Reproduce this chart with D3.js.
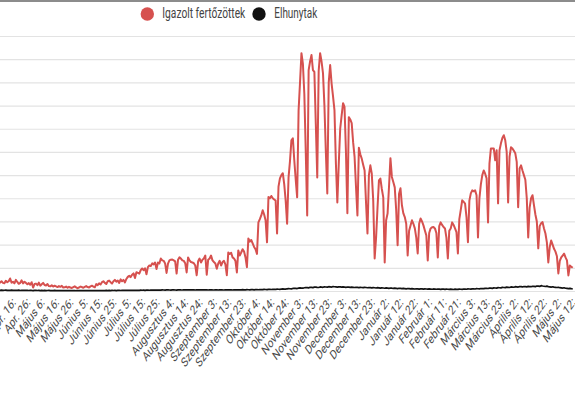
<!DOCTYPE html>
<html><head><meta charset="utf-8">
<script src="https://cdn.jsdelivr.net/npm/d3@7"></script>
<style>body{margin:0;background:#fff;overflow:hidden} svg{display:block;font-family:Roboto, "Noto Sans", sans-serif;}</style>
</head><body><svg id="c" width="575" height="396"></svg>
<script>
// Categories: daily reports from 2020-04-06 (index 0) to 2021-05-12 (index 400)
const firstDay = "2020-04-06";
const seriesNames = ["Igazolt fertőzöttek", "Elhunytak"];
const seriesColors = ["#d6514f", "#111111"];
const tickLabels = ["Apr. 16:","Apr. 26:","Május 6:","Május 16:","Május 26:","Június 5:","Június 15:","Június 25:","Július 5:","Július 15:","Július 25:","Augusztus 4:","Augusztus 14:","Augusztus 24:","Szeptember 3:","Szeptember 13:","Szeptember 23:","Október 4:","Október 14:","Október 24:","November 3:","November 13:","November 23:","December 3:","December 13:","December 23:","Január 2:","Január 12:","Január 22:","Február 1:","Február 11:","Február 21:","Március 3:","Március 13:","Március 23:","Április 2:","Április 12:","Április 22:","Május 2:","Május 12:"];
const cases = [
390,360,420,350,330,440,380,420,540,360,
400,330,480,390,310,350,460,330,400,350,
290,340,270,380,150,300,320,250,360,230,
290,350,260,240,300,210,200,250,190,230,
200,170,210,180,220,150,160,190,140,180,
150,130,170,200,160,120,150,190,170,140,
180,210,170,150,200,230,190,160,300,250,
330,280,380,420,350,300,420,450,380,320,
420,480,400,450,350,500,420,480,370,520,
610,660,600,700,760,560,810,780,750,900,
970,900,980,720,1030,1100,1080,1190,1150,1230,
950,1230,1190,1400,1320,1300,1190,780,1180,1320,
1350,1360,1320,1280,750,1350,1450,1400,1320,1300,
1200,800,1450,1320,1250,1230,1200,1100,680,1280,
1400,1230,1350,1400,1530,700,1350,1400,1530,1320,
1250,1190,960,1190,1300,1100,1250,1300,1150,680,
1660,1600,1650,1450,1400,1300,800,1750,1530,1660,
1800,1700,1450,1030,2270,2130,2200,2050,1900,1800,
1600,2960,3100,3260,3480,3300,3050,2100,4050,4000,
4100,4000,3950,3900,2480,4500,4860,5000,5080,4600,
3900,2900,4900,5600,6500,6590,5640,4800,4040,7800,
9000,10260,9800,8500,6000,3260,9530,9900,10180,9530,
9450,7200,4900,9500,10260,9900,9400,8000,6000,4210,
9000,9750,8950,8400,7800,5500,3820,5500,7000,7580,
8100,7940,6000,3350,7500,7400,7240,6420,5800,4500,
3260,6180,5900,5710,5450,5200,3800,2480,5000,5420,
5060,3910,1400,2310,3600,4770,4850,4400,4040,1230,
3050,3340,4500,5730,4920,4700,4470,3500,1970,4200,
4430,3700,3350,3190,2900,1530,2600,2830,3050,2900,
2700,2300,1620,2900,3130,3000,2830,2610,2400,1320,
2500,2700,2750,2760,2700,2500,1450,2800,2960,2850,
2760,2700,2300,1400,2600,2700,2960,2850,2700,2540,
1620,3100,3500,3910,3850,3770,3190,2100,3900,4210,
4340,4300,4340,4130,2310,4000,4600,5000,5200,5060,
4860,2960,5500,6150,6150,6150,5640,6070,3780,6070,
6370,6600,6720,6500,6000,3820,5800,6200,6150,6050,
5940,5570,3610,5290,5420,5200,5000,4800,4000,2310,
3600,4000,4130,3700,3300,3000,1840,2800,2920,2970,
2700,2480,2100,1230,1900,2180,2000,1820,1700,1500,
760,1300,1450,1530,1610,1450,1320,670,1100,1050,
1000];
const deaths = [
30,28,35,25,32,40,27,33,30,36,
28,32,25,30,36,22,28,33,25,30,
27,22,31,24,20,28,25,22,30,18,
24,20,26,18,22,25,17,21,19,24,
16,20,18,22,15,19,17,14,20,16,
18,13,16,19,12,15,17,14,16,12,
15,18,13,16,14,19,15,17,20,16,
18,21,17,22,19,24,20,23,19,25,
22,26,20,24,27,22,25,28,23,26,
24,29,25,27,31,26,30,33,28,35,
32,37,30,34,38,33,40,36,42,39,
35,41,44,38,46,42,39,45,48,43,
40,47,50,44,41,49,52,46,43,51,
48,45,53,50,47,55,49,44,52,48,
46,54,50,45,52,47,43,50,55,48,
44,51,47,42,49,53,46,43,50,47,
45,52,48,44,53,49,46,55,51,48,
56,52,49,58,54,50,60,56,52,62,
58,54,65,61,57,68,64,60,72,68,
64,75,70,66,80,76,72,85,90,84,
80,95,105,98,92,110,120,112,105,125,
135,128,120,140,150,142,135,160,155,148,
165,170,158,150,175,168,160,180,172,165,
185,178,170,190,182,175,168,180,174,165,
178,170,160,172,165,155,168,160,150,162,
155,148,160,152,145,158,150,140,152,145,
135,148,140,130,142,135,125,138,130,120,
132,125,115,128,120,110,122,115,105,118,
110,100,112,105,95,108,100,90,102,95,
85,98,90,82,94,88,80,92,85,78,
90,84,76,88,82,75,86,80,72,84,
78,70,82,76,68,80,74,66,78,72,
70,82,76,72,85,80,76,90,86,82,
95,90,86,100,96,92,108,104,100,115,
112,108,125,120,115,135,130,125,145,140,
135,155,150,145,165,160,152,175,170,162,
185,178,170,190,185,175,195,188,180,200,
192,185,205,198,190,215,208,200,230,215,
205,195,210,188,180,170,182,165,158,150,
160,142,135,128,138,120,112,105,115,100,
95];
const gridValues = [0,1000,2000,3000,4000,5000,6000,7000,8000,9000,10000,11000];

const W = 575, H = 396;
const svg = d3.select("#c");
const idx = d3.range(cases.length);
const tickIdx = tickLabels.map((_, i) => 10 + 10 * i);

const x = d3.scaleLinear().domain([10, 400]).range([13, 572.7]);
const y = d3.scaleLinear().domain([0, 11000]).range([291, 36]);

// top border
svg.append("rect").attr("x", 0).attr("y", 0).attr("width", W).attr("height", 2).attr("fill", "#8c8c8c");

// gridlines
const gy = svg.append("g").attr("transform", "translate(0,0)")
  .call(d3.axisRight(y).tickValues(gridValues).tickSize(W).tickFormat(""));
gy.select(".domain").remove();
gy.selectAll("line").attr("stroke", "#e3e3e3").attr("stroke-width", 1.2);

// lines
svg.append("path").datum(idx)
  .attr("fill", "none").attr("stroke", seriesColors[0]).attr("stroke-width", 2)
  .attr("stroke-linejoin", "round")
  .attr("d", d3.line().x(i => x(i)).y(i => y(cases[i])));
svg.append("path").datum(idx)
  .attr("fill", "none").attr("stroke", seriesColors[1]).attr("stroke-width", 1.7)
  .attr("stroke-linejoin", "round")
  .attr("d", d3.line().x(i => x(i)).y(i => y(deaths[i])));

// x axis labels
const gx = svg.append("g").attr("transform", "translate(0,291)")
  .call(d3.axisBottom(x).tickValues(tickIdx).tickSize(0).tickFormat((d, i) => tickLabels[i]));
gx.select(".domain").remove();
gx.selectAll("text")
  .attr("x", 0).attr("y", 0).attr("dy", 0)
  .attr("text-anchor", "end")
  .attr("fill", "#4a4a4a").attr("font-size", "13.2px")
  .attr("font-family", "Roboto, sans-serif")
  .attr("transform", "translate(3,12) scale(0.72,1) rotate(-45)");

// legend
const leg = svg.append("g");
const legItems = [{c: seriesColors[0], t: seriesNames[0], cx: 147.3, tx: 162.3, tl: 83},
                  {c: seriesColors[1], t: seriesNames[1], cx: 259, tx: 274.3, tl: 43}];
legItems.forEach(d => {
  leg.append("circle").attr("cx", d.cx).attr("cy", 14).attr("r", 6.7).attr("fill", d.c);
  leg.append("text").attr("x", d.tx).attr("y", 18.3).attr("font-size", "14px")
    .attr("fill", "#444").attr("textLength", d.tl).attr("lengthAdjust", "spacingAndGlyphs").text(d.t);
});
</script></body></html>
